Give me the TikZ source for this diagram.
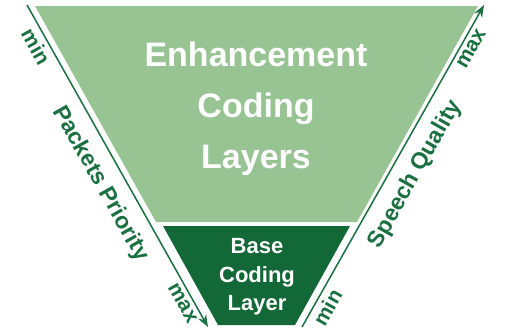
\documentclass[tikz,border=0pt]{standalone}
\usepackage{fontspec}
\setmainfont{Liberation Sans}
\usepackage{xcolor}
\usetikzlibrary{arrows.meta}
\definecolor{lightgreen}{HTML}{98C393}
\definecolor{darkgreen}{HTML}{136837}
\definecolor{textgreen}{HTML}{1A7040}
\tikzset{
  style light/.style={
    fill=lightgreen,
    draw=none,
  },
  style dark/.style={
    fill=darkgreen,
    draw=none,
  },
  layer text/.style={
    text=white, align=center, inner sep=0pt,
    #1
  },
  axis label/.style={
    text=textgreen, sloped, inner sep=0pt,
    font=\fontsize{23}{23}\selectfont\bfseries
  },
  axis end/.style={
    text=textgreen, sloped, inner sep=0pt,
    font=\fontsize{21}{21}\selectfont\bfseries
  }
}

\begin{document}
\begin{tikzpicture}[x=1pt,y=-1pt]
                    \useasboundingbox (0,0) rectangle (506,332);
                    \fill [style light] (35,6) -- (478,6) -- (357,222) -- (156,222) -- cycle;
                    \fill [style dark] (163,226) -- (350,226) -- (295,325) -- (218,325) -- cycle;
                    \begin{scope}[every node/.style={layer text}]
                        \node [font=\fontsize{34}{51}\selectfont\bfseries] (enh) at (256,109) {Enhancement\\Coding\\Layers};
                        \node [font=\fontsize{22}{28.5}\selectfont\bfseries] (base) at (257,277) {Base\\Coding\\Layer};
                    \end{scope}
                    \coordinate (P1) at (27,5);
                    \coordinate (P2) at (208,327);
                    \coordinate (Q1) at (302,327);
                    \coordinate (Q2) at (484,5);
                    \begin{scope}[>={Stealth[length=12pt,width=9pt]}, every edge/.style={draw=textgreen,line width=1.5pt}]
                        \path [->] (P1) edge node [axis end, pos=0.11, below=4pt] {min}
                                              node [axis label, pos=0.52, below=12pt] {Packets Priority}
                                              node [axis end, pos=0.91, below=4pt] {max} (P2);

                        \path [->] (Q1) edge node [axis end, pos=0.08, below=4pt] {min}
                                              node [axis label, pos=0.51, below=12pt] {Speech Quality}
                                              node [axis end, pos=0.88, below=4pt] {max} (Q2);
                    \end{scope}
                \end{tikzpicture}
\end{document}
